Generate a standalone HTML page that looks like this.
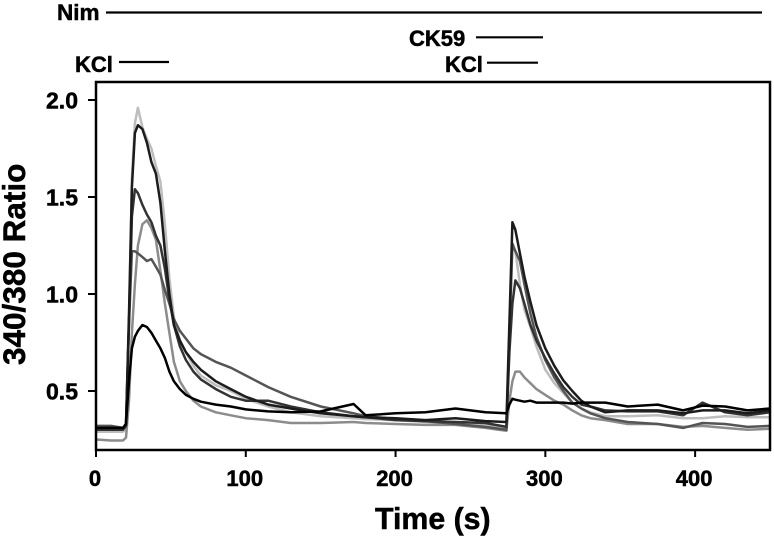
<!DOCTYPE html>
<html lang="en">
<head>
<meta charset="utf-8">
<title>340/380 Ratio over Time</title>
<style>
html,body{margin:0;padding:0;background:#fff;width:774px;height:539px;overflow:hidden}
svg{display:block;font-family:"Liberation Sans",Arial,sans-serif;font-weight:bold;fill:#000}
text{stroke:#000;stroke-width:.5px}
</style>
</head>
<body>
<svg id="chart" width="774" height="539" viewBox="0 0 774 539" xmlns="http://www.w3.org/2000/svg">
  <g font-size="22">
    <text x="57" y="20" font-size="22.5">Nim</text>
    <line x1="106" y1="12.5" x2="762" y2="12.5" stroke="#000" stroke-width="2.2"/>
    <text x="409" y="46">CK59</text>
    <line x1="476" y1="37.3" x2="543" y2="37.3" stroke="#000" stroke-width="2.2"/>
    <text x="75" y="72">KCl</text>
    <line x1="119" y1="62" x2="169" y2="62" stroke="#000" stroke-width="2.2"/>
    <text x="445" y="72">KCl</text>
    <line x1="487" y1="62.7" x2="538" y2="62.7" stroke="#000" stroke-width="2.2"/>
  </g>
  <g id="series"></g>
  <rect x="96" y="82" width="674" height="368" fill="none" stroke="#000" stroke-width="2.5"/>
  <g id="axes"></g>
  <text transform="translate(25,365) rotate(-90)" font-size="31.5">340/380 Ratio</text>
  <text x="375" y="529" font-size="30.3">Time (s)</text>
</svg>
<script>
const times = [0,10,18,20,22,24,26,28,31,34,37,40,43,46,49,52,56,60,65,70,80,90,100,115,130,150,172,180,200,220,240,260,274,276,278,280,283,286,290,294,300,306,312,318,324,330,340,355,375,392,405,420,435,450];
const seriesLightGray = [.29,.29,.29,.30,.85,1.6,1.88,1.96,1.86,1.80,1.75,1.66,1.58,1.36,1.08,.88,.76,.70,.63,.58,.53,.50,.46,.42,.39,.37,.36,.355,.35,.34,.335,.325,.31,.75,1.25,1.22,1.05,.92,.83,.73,.61,.54,.49,.44,.41,.39,.37,.37,.375,.36,.36,.37,.365,.365];
const seriesMidGray = [.25,.245,.245,.26,.45,.8,1.05,1.25,1.36,1.38,1.34,1.28,1.12,.95,.80,.65,.55,.50,.45,.42,.39,.375,.36,.35,.335,.335,.34,.335,.33,.325,.325,.31,.295,.45,.55,.60,.60,.57,.54,.51,.48,.45,.43,.40,.375,.36,.35,.33,.33,.315,.32,.31,.30,.305];
const seriesSlate = [.32,.32,.31,.33,.85,1.22,1.22,1.21,1.19,1.17,1.18,1.14,1.10,1.02,.95,.87,.81,.77,.72,.69,.65,.62,.58,.52,.47,.42,.385,.37,.355,.345,.33,.315,.30,.8,1.26,1.22,1.17,1.05,.90,.78,.66,.57,.50,.44,.41,.385,.36,.34,.33,.31,.335,.33,.315,.32];
const seriesCharcoal = [.30,.30,.30,.32,.85,1.4,1.54,1.52,1.46,1.41,1.37,1.30,1.25,1.13,.97,.84,.73,.66,.60,.56,.51,.47,.45,.45,.42,.39,.37,.365,.35,.345,.34,.335,.315,.7,.95,1.07,1.03,.95,.84,.76,.67,.59,.52,.47,.43,.42,.40,.395,.395,.375,.44,.39,.375,.39];
const seriesDark = [.31,.31,.31,.33,.9,1.55,1.83,1.87,1.85,1.78,1.68,1.62,1.47,1.22,1.0,.84,.76,.70,.65,.61,.55,.51,.47,.43,.41,.385,.37,.365,.36,.35,.36,.345,.34,.85,1.37,1.33,1.21,1.09,.96,.84,.72,.63,.555,.50,.45,.42,.39,.40,.40,.385,.40,.40,.385,.40];
const seriesBlack = [.31,.31,.31,.33,.55,.72,.78,.81,.84,.83,.80,.76,.72,.67,.60,.55,.51,.48,.46,.445,.43,.42,.405,.395,.39,.395,.433,.375,.385,.39,.41,.39,.385,.43,.46,.455,.45,.445,.45,.44,.44,.44,.44,.435,.44,.44,.44,.42,.43,.40,.425,.42,.40,.41];
const xTicks = [0,100,200,300,400];
const yTicks = [0.5,1.0,1.5,2.0];
const yTickLabels = ["0.5","1.0","1.5","2.0"];

const NS = 'http://www.w3.org/2000/svg';
function xScale(t){ return 96 + t * 1.4978; }
function yScale(v){ return 391 - (v - 0.5) * 194; }

const seriesGroup = document.getElementById('series');
const axesGroup = document.getElementById('axes');

function drawSeries(values, color, width, name){
  const p = document.createElementNS(NS, 'polyline');
  p.setAttribute('points', values.map((v, i) => xScale(times[i]).toFixed(1) + ',' + yScale(v).toFixed(1)).join(' '));
  p.setAttribute('fill', 'none');
  p.setAttribute('stroke', color);
  p.setAttribute('stroke-width', width);
  p.setAttribute('stroke-linejoin', 'round');
  
  
  seriesGroup.appendChild(p);
}
drawSeries(seriesLightGray, '#bdbdbd', 2.5, 'series-light-gray');
drawSeries(seriesMidGray, '#8c8c8c', 2.5, 'series-mid-gray');
drawSeries(seriesSlate, '#555555', 2.5, 'series-slate');
drawSeries(seriesCharcoal, '#333333', 2.5, 'series-charcoal');
drawSeries(seriesDark, '#1c1c1c', 2.5, 'series-dark');
drawSeries(seriesBlack, '#000000', 2.5, 'series-black');

xTicks.forEach(t => {
  const x = xScale(t);
  const tick = document.createElementNS(NS, 'line');
  tick.setAttribute('x1', x);
  tick.setAttribute('x2', x);
  tick.setAttribute('y1', 450);
  tick.setAttribute('y2', 457);
  tick.setAttribute('stroke', '#000');
  tick.setAttribute('stroke-width', 2);
  
  
  axesGroup.appendChild(tick);
  const label = document.createElementNS(NS, 'text');
  label.setAttribute('x', x - 1);
  label.setAttribute('y', 486);
  label.setAttribute('text-anchor', 'middle');
  label.setAttribute('font-size', 22);
  
  
  label.textContent = String(t);
  axesGroup.appendChild(label);
});

yTicks.forEach((v, i) => {
  const y = yScale(v);
  const tick = document.createElementNS(NS, 'line');
  tick.setAttribute('x1', 88);
  tick.setAttribute('x2', 96);
  tick.setAttribute('y1', y);
  tick.setAttribute('y2', y);
  tick.setAttribute('stroke', '#000');
  tick.setAttribute('stroke-width', 2);
  
  
  axesGroup.appendChild(tick);
  const label = document.createElementNS(NS, 'text');
  label.setAttribute('x', 78);
  label.setAttribute('y', y + 8.5);
  label.setAttribute('text-anchor', 'end');
  label.setAttribute('font-size', 23);
  
  
  label.textContent = yTickLabels[i];
  axesGroup.appendChild(label);
});
</script>
</body>
</html>
